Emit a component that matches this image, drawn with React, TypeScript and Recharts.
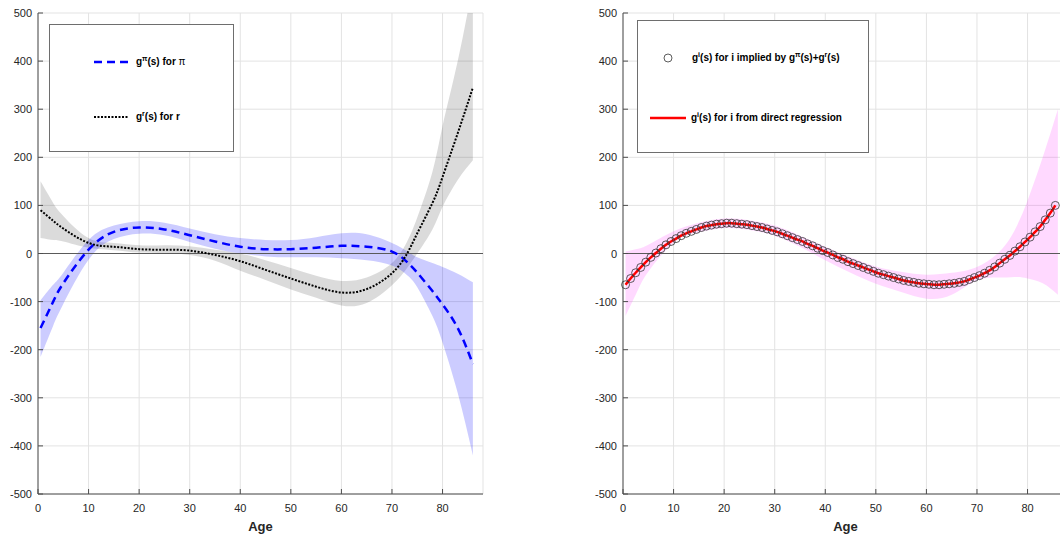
import React from 'react';
import { Area, CartesianGrid, ComposedChart, Line, ReferenceLine, XAxis, YAxis } from 'recharts';

// ---- data ----
const X_TICKS = [0, 10, 20, 30, 40, 50, 60, 70, 80];
const Y_TICKS = [-500, -400, -300, -200, -100, 0, 100, 200, 300, 400, 500];

// left panel
const LEFT_AGES = [0.5, 3, 5, 10, 15, 20, 25, 30, 35, 40, 45, 50, 55, 60, 65, 70, 73, 75, 78, 80, 83, 86];
const PI_VALUES = [-155, -100, -62, 8, 45, 54, 50, 38, 25, 14, 9, 9, 12, 16, 14, 4, -18, -40, -78, -106, -155, -230];
const PI_LOW = [-215, -150, -105, -13, 30, 41, 38, 24, 10, 0, -6, -8, -8, -10, -14, -25, -45, -70, -130, -185, -290, -420];
const PI_HIGH = [-97, -65, -40, 28, 58, 67, 64, 52, 40, 32, 28, 28, 34, 42, 40, 22, 5, -8, -20, -28, -42, -60];
const R_VALUES = [90, 68, 52, 22, 14, 9, 8, 6, -3, -16, -34, -52, -69, -81, -74, -41, 0, 42, 105, 159, 250, 345];
const R_LOW = [32, 28, 25, 12, 7, 2, 1, -3, -15, -36, -55, -75, -92, -108, -103, -66, -30, 0, 50, 97, 153, 194];
const R_HIGH = [150, 105, 78, 32, 22, 17, 17, 15, 8, 0, -14, -30, -46, -57, -50, -20, 25, 75, 170, 265, 400, 560];

// right panel
const I_AGES = [
  0.5, 1.5, 2.5, 3.5, 4.5, 5.5, 6.5, 7.5, 8.5, 9.5, 10.5, 11.5, 12.5, 13.5, 14.5, 15.5, 16.5, 17.5, 18.5, 19.5,
  20.5, 21.5, 22.5, 23.5, 24.5, 25.5, 26.5, 27.5, 28.5, 29.5, 30.5, 31.5, 32.5, 33.5, 34.5, 35.5, 36.5, 37.5, 38.5, 39.5,
  40.5, 41.5, 42.5, 43.5, 44.5, 45.5, 46.5, 47.5, 48.5, 49.5, 50.5, 51.5, 52.5, 53.5, 54.5, 55.5, 56.5, 57.5, 58.5, 59.5,
  60.5, 61.5, 62.5, 63.5, 64.5, 65.5, 66.5, 67.5, 68.5, 69.5, 70.5, 71.5, 72.5, 73.5, 74.5, 75.5, 76.5, 77.5, 78.5, 79.5,
  80.5, 81.5, 82.5, 83.5, 84.5, 85.5,
];
const GI_VALUES = [
  -65, -52, -40, -29, -18, -8, 1, 10, 18, 25, 31, 37, 42, 46, 50, 54, 57, 59, 61, 62,
  63, 63, 62, 61, 60, 58, 56, 54, 51, 48, 45, 41, 37, 33, 29, 25, 20, 16, 11, 6,
  2, -3, -8, -12, -17, -21, -25, -29, -33, -37, -41, -44, -47, -50, -53, -56, -58, -60, -62, -63,
  -64, -65, -65, -64, -63, -62, -60, -58, -54, -50, -46, -41, -35, -28, -20, -12, -4, 5, 14, 24,
  34, 45, 56, 70, 84, 100,
];
const I_BAND_AGES = [0.5, 3, 5, 10, 15, 20, 25, 30, 35, 40, 45, 50, 55, 60, 65, 70, 75, 78, 80, 83, 86];
const I_LOW = [-130, -75, -38, 22, 44, 53, 49, 37, 14, -14, -40, -63, -80, -94, -86, -56, -50, -49, -52, -62, -86];
const I_HIGH = [4, 10, 18, 46, 64, 73, 69, 58, 37, 14, -8, -27, -38, -44, -40, -28, 10, 60, 110, 200, 300];

const leftData = LEFT_AGES.map((age, i) => ({
  age,
  pi: PI_VALUES[i],
  r: R_VALUES[i],
  piBand: [PI_LOW[i], PI_HIGH[i]],
  rBand: [R_LOW[i], R_HIGH[i]],
}));
const rightData = I_AGES.map((age, i) => ({ age, gi: GI_VALUES[i] }));
const rightBand = I_BAND_AGES.map((age, i) => ({ age, iBand: [I_LOW[i], I_HIGH[i]] }));

const FONT = '"Liberation Sans", Arial, Helvetica, sans-serif';
const AXIS = '#4d4d4d';
const LABEL = '#262626';

const BottomTick = ({ x, y, payload }: any) => (
  <g>
    <line x1={x} y1={y} x2={x} y2={y - 5} stroke={AXIS} />
    <text x={x} y={y + 18} textAnchor="middle" fontSize={11} fill={LABEL} fontFamily={FONT}>{payload.value}</text>
  </g>
);
const TopTick = ({ x, y }: any) => <line x1={x} y1={y} x2={x} y2={y + 5} stroke={AXIS} />;
const LeftTick = ({ x, y, payload }: any) => (
  <g>
    <line x1={x} y1={y} x2={x + 5} y2={y} stroke={AXIS} />
    <text x={x - 6} y={y + 4} textAnchor="end" fontSize={11} fill={LABEL} fontFamily={FONT}>{payload.value}</text>
  </g>
);
const RightTick = ({ x, y }: any) => <line x1={x} y1={y} x2={x - 5} y2={y} stroke={AXIS} />;

const axes = () => [
  <CartesianGrid key="grid" stroke="#e3e3e3" />,
  <XAxis key="xb" dataKey="age" type="number" domain={[0, 88]} ticks={X_TICKS} interval={0}
    tickSize={0} tickMargin={0} tickLine={false} stroke={AXIS} height={44} tick={<BottomTick />}
    label={{ value: 'Age', position: 'insideBottom', offset: 7, style: { fontFamily: FONT, fontWeight: 'bold', fontSize: 13, fill: LABEL } }} />,
  <XAxis key="xt" xAxisId="top" orientation="top" dataKey="age" type="number" domain={[0, 88]} ticks={X_TICKS}
    interval={0} tickSize={0} tickMargin={0} tickLine={false} stroke={AXIS} height={0} tick={<TopTick />} />,
  <YAxis key="yl" type="number" domain={[-500, 500]} ticks={Y_TICKS} interval={0} allowDataOverflow
    tickSize={0} tickMargin={0} tickLine={false} stroke={AXIS} width={38} tick={<LeftTick />} />,
  <YAxis key="yr" yAxisId="right" orientation="right" type="number" domain={[-500, 500]} ticks={Y_TICKS}
    interval={0} tickSize={0} tickMargin={0} tickLine={false} stroke={AXIS} width={0} tick={<RightTick />} />,
  <ReferenceLine key="zero" y={0} stroke="#5a5a5a" strokeWidth={1} />,
];

const sup = (s: string) => <sup style={{ fontSize: '0.7em', lineHeight: 0 }}>{s}</sup>;
const legendText: React.CSSProperties = {
  position: 'absolute', height: 14, lineHeight: '14px', whiteSpace: 'nowrap',
  fontFamily: FONT, fontWeight: 'bold', fontSize: 10, color: '#000',
};
const box: React.CSSProperties = {
  position: 'absolute', boxSizing: 'border-box', border: '1px solid #6e6e6e', background: '#fff',
};

export default function App() {
  return (
    <div style={{ position: 'fixed', left: 0, top: 0, width: 1060, height: 538, overflow: 'hidden', background: '#fff' }}>
      <div style={{ position: 'absolute', left: 0, top: 0 }}>
        <ComposedChart width={500} height={538} data={leftData} margin={{ top: 13, right: 17, bottom: 0, left: 0 }}>
          {axes()}
          <Area dataKey="rBand" type="natural" stroke="none" fill="#000000" fillOpacity={0.14} isAnimationActive={false} />
          <Area dataKey="piBand" type="natural" stroke="none" fill="#0000ff" fillOpacity={0.2} isAnimationActive={false} />
          <Line dataKey="pi" type="natural" stroke="#0000ff" strokeWidth={2.5} strokeDasharray="8 5" dot={false} isAnimationActive={false} />
          <Line dataKey="r" type="natural" stroke="#000000" strokeWidth={2} strokeDasharray="2 1.5" dot={false} isAnimationActive={false} />
        </ComposedChart>
      </div>
      <div style={{ position: 'absolute', left: 585, top: 0 }}>
        <ComposedChart width={500} height={538} data={rightData} margin={{ top: 13, right: 17, bottom: 0, left: 0 }}>
          {axes()}
          <Area data={rightBand} dataKey="iBand" type="natural" stroke="none" fill="#ff00ff" fillOpacity={0.15} isAnimationActive={false} />
          <Line dataKey="gi" type="natural" stroke="none" isAnimationActive={false}
            dot={{ r: 4, fill: 'none', stroke: '#333333', strokeWidth: 0.8 }} />
          <Line dataKey="gi" type="natural" stroke="#ff0000" strokeWidth={2.5} dot={false} isAnimationActive={false} />
        </ComposedChart>
      </div>

      {/* left legend */}
      <div style={{ ...box, left: 49, top: 24, width: 185, height: 128 }}>
        <svg style={{ position: 'absolute', left: 44, top: 33 }} width={36} height={8}>
          <line x1={0} y1={4} x2={36} y2={4} stroke="#0000ff" strokeWidth={2.5} strokeDasharray="8 5" />
        </svg>
        <div style={{ ...legendText, left: 86, top: 30 }}>g{sup('π')}(s) for <span style={{ fontWeight: 'normal' }}>π</span></div>
        <svg style={{ position: 'absolute', left: 44, top: 88 }} width={34} height={8}>
          <line x1={0} y1={4} x2={34} y2={4} stroke="#000" strokeWidth={2} strokeDasharray="2 1.5" />
        </svg>
        <div style={{ ...legendText, left: 86, top: 85 }}>g{sup('r')}(s) for r</div>
      </div>

      {/* right legend */}
      <div style={{ ...box, left: 637, top: 20, width: 232, height: 133 }}>
        <svg style={{ position: 'absolute', left: 24, top: 31 }} width={12} height={12}>
          <circle cx={6} cy={6} r={4} fill="none" stroke="#333" strokeWidth={0.8} />
        </svg>
        <div style={{ ...legendText, left: 54, top: 30 }}>g{sup('i')}(s) for i implied by g{sup('π')}(s)+g{sup('r')}(s)</div>
        <svg style={{ position: 'absolute', left: 12, top: 93 }} width={36} height={8}>
          <line x1={0} y1={4} x2={36} y2={4} stroke="#ff0000" strokeWidth={2.5} />
        </svg>
        <div style={{ ...legendText, left: 53, top: 90 }}>g{sup('i')}(s) for i from direct regression</div>
      </div>
    </div>
  );
}
